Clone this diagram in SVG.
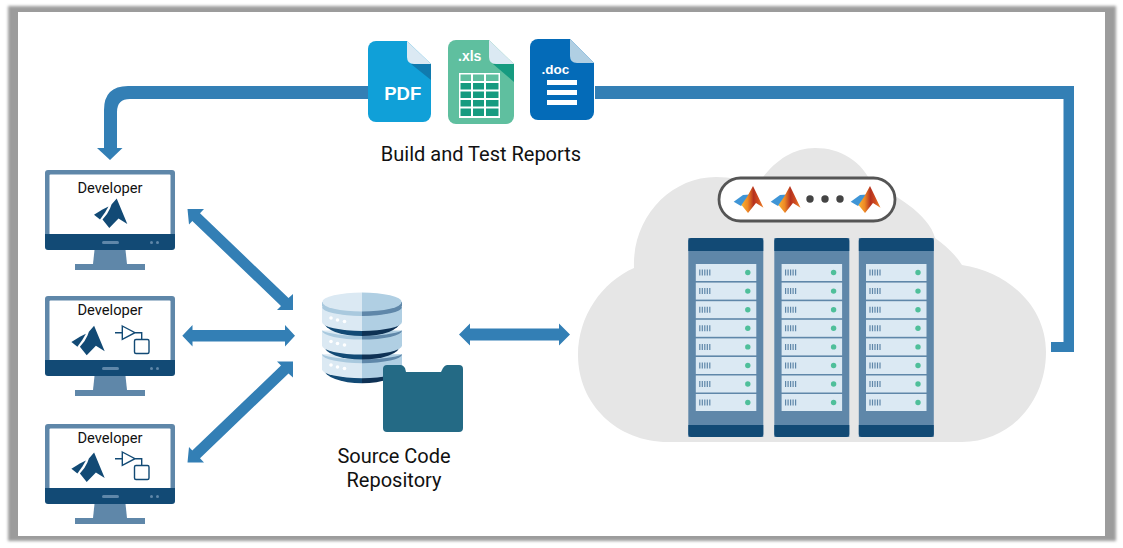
<svg xmlns="http://www.w3.org/2000/svg" width="1123" height="548" viewBox="0 0 1123 548">
<style>
.lbl{font-family:Roboto,"Liberation Sans",sans-serif;fill:#111;text-anchor:middle}
.dev{font-size:14.7px}
.big{font-size:20px}
.ft{font-family:"Liberation Sans",Arial,sans-serif;font-weight:700;fill:#fff}
.conn{fill:#337fb5}
.sl{fill:none;stroke:#124a75;stroke-width:1.4}
.frame{fill:#5f87a9}
.dark{fill:#124a75}
</style>
<defs>
<filter id="blur" x="-3%" y="-3%" width="106%" height="106%"><feGaussianBlur stdDeviation="1.6"/></filter>
<linearGradient id="mlg" x1="0" y1="0" x2="1" y2="0"><stop offset="0" stop-color="#f9b233"/><stop offset=".28" stop-color="#ee8a26"/><stop offset=".55" stop-color="#b5311f"/><stop offset=".75" stop-color="#cf4a20"/><stop offset="1" stop-color="#ef8a2a"/></linearGradient>
<g id="mlDark">
<path class="dark" d="M94 214.700L102.500 209.500L108.500 206.500L105 212.500L100 219.500Z"/>
<path class="dark" d="M116.700 198.500L127.300 224L118.500 218.500L109.300 228L102.500 219.500L107 214L110 208.500L111.500 204.500Z"/>
</g>
<g id="mlCol">
<path fill="#3f95d6" d="M733.700 201.700L743 195L750 194.500L745.500 201.500L741 206Z"/>
<path fill="url(#mlg)" d="M753 186L763.500 207.800L756 203L748 213L741.500 205L747 197L750 191.500Z"/>
</g>
<g id="sim">
<path class="sl" d="M115 332.700H122.300M122.300 326L135 332.700L122.300 339.300ZM135 332.700H141.700V339.300"/>
<rect class="sl" x="134.500" y="339.500" width="14.500" height="14" rx="1.500"/>
</g>
<g id="mon">
<rect class="frame" x="45" y="170" width="130" height="70" rx="3"/>
<rect x="49.500" y="174.500" width="121" height="62" rx="1" fill="#fff"/>
<path class="dark" d="M45 234H175V247a3 3 0 0 1-3 3H48a3 3 0 0 1-3-3Z"/>
<rect x="102" y="241" width="17" height="3" rx="1.500" fill="#5f87a9"/>
<circle cx="151.500" cy="242.500" r="1.500" fill="#5f87a9"/>
<circle cx="157.500" cy="242.500" r="1.500" fill="#5f87a9"/>
<path class="frame" d="M94.500 250H125.500L127 264H93Z"/>
<rect class="frame" x="75" y="264" width="70" height="6"/>
</g>
<g id="unit">
<rect width="60.500" height="17" fill="#dbe9f3"/>
<path d="M4 5.500v6M6.500 5.500v6M9 5.500v6M11.500 5.500v6M14 5.500v6" stroke="#5f87a9" stroke-width="1.200"/>
<circle cx="52" cy="8.500" r="2.700" fill="#4fbf9a"/>
</g>
<g id="rackUnits">
<use href="#unit" y="264"/><use href="#unit" y="282.600"/><use href="#unit" y="301.200"/><use href="#unit" y="319.800"/><use href="#unit" y="338.400"/><use href="#unit" y="357"/><use href="#unit" y="375.500"/><use href="#unit" y="394"/>
</g>
<g id="rackBody">
<path class="frame" d="M0 238H75V437H0Z"/>
<path class="dark" d="M0 241a3 3 0 0 1 3-3H72a3 3 0 0 1 3 3V251H0Z"/>
<path class="dark" d="M0 425H75V434a3 3 0 0 1-3 3H3a3 3 0 0 1-3-3Z"/>
</g>
<g id="disk">
<path fill="#124a75" d="M324 322A38 14 0 0 0 362 336V322Z"/>
<path fill="#0e3154" d="M400 322A38 14 0 0 1 362 336V322Z"/>
<path fill="#dbe9f3" d="M322 307V322A40 9 0 0 0 362 331V307Z"/>
<path fill="#b0cfe3" d="M402 307V322A40 9 0 0 1 362 331V307Z"/>
<path fill="#a9c9de" d="M322 307A40 9 0 0 0 362 316V312A40 8 0 0 1 322 307Z"/>
<path fill="#5f87a9" d="M402 307A40 9 0 0 1 362 316V312A40 8 0 0 0 402 307Z"/>
</g>
</defs>

<rect x="8" y="6" width="1108" height="535" fill="#9c9c9c" filter="url(#blur)"/>
<rect x="18" y="12" width="1087" height="524" fill="#fff"/>

<g id="cloud">
<path fill="#e6e6e6" d="M668 442C617 442 578 404 578 355C578 316 602 282 634 268C632 218 670 177 716 177C730 177 745 180 757 186C772 162 792 148 815 148C841 148 862 161 873 186C890 190 930 215 935 238C945 245 955 254 962 265C1008 272 1046 306 1046 352C1046 402 1010 442 962 442Z"/>
</g>

<g id="racks">
<use href="#rackBody" x="688.300"/>
<use href="#rackBody" x="774.300"/>
<use href="#rackBody" x="858.800"/>
<use href="#rackUnits" x="695.800"/>
<use href="#rackUnits" x="781.600"/>
<use href="#rackUnits" x="866"/>
</g>

<g id="matlab-pool">
<rect x="719" y="178" width="176" height="43" rx="21.500" fill="#fff" stroke="#555" stroke-width="2.800"/>
<use href="#mlCol"/>
<use href="#mlCol" x="37"/>
<use href="#mlCol" x="117"/>
<circle cx="810" cy="199" r="3.700" fill="#444"/>
<circle cx="825" cy="199" r="3.700" fill="#444"/>
<circle cx="840" cy="199" r="3.700" fill="#444"/>
</g>

<g id="connectors">
<path class="conn" d="M368 86V99H130Q117 99 117 112V148H122.500L110 160L97 148H104V110Q104 86 128 86Z"/>
<path class="conn" d="M595 86H1074V352H1051V342H1063.500V99H595Z"/>
<path class="conn" d="M187.500 209H204L200 213.300L288.500 298L293 294V310H277L281 305.900L192.300 221L189 224.500Z"/>
<path class="conn" d="M182.300 335.700L192.500 325V330H285V325L295 335.700L285 346.500V341.500H192.500V346.500Z"/>
<path class="conn" d="M187.500 462.500L189 447L192.300 450.500L281 365.600L277 361.500H293V377.500L288.500 373.500L200 458.200L204 462.500Z"/>
<path class="conn" d="M459 334.500L470 323.500V328.500H559V323.500L570 334.500L559 345.500V340.500H470V345.500Z"/>
</g>

<g id="dev1">
<use href="#mon"/>
<text class="lbl dev" x="110" y="192.500">Developer</text>
<use href="#mlDark"/>
</g>
<g id="dev2">
<use href="#mon" y="126"/>
<text class="lbl dev" x="110" y="315">Developer</text>
<use href="#mlDark" x="-22.600" y="127.300"/>
<use href="#sim"/>
</g>
<g id="dev3">
<use href="#mon" y="254"/>
<text class="lbl dev" x="110" y="442.500">Developer</text>
<use href="#mlDark" x="-22.600" y="254"/>
<use href="#sim" y="126"/>
</g>

<g id="pdf">
<path fill="#10a0d8" d="M376 41H407L431 64V114a8 8 0 0 1-8 8H376a8 8 0 0 1-8-8V49a8 8 0 0 1 8-8Z"/>
<path fill="#dbe9f3" d="M407 41L431 64H414Q407 64 407 57Z"/>
<path fill="#107aae" d="M411 64H431V80Z"/>
<text class="ft" x="402.700" y="100" font-size="18.500" text-anchor="middle">PDF</text>
</g>
<g id="xls">
<path fill="#5fbf9f" d="M456 40H489L514 64V116a8 8 0 0 1-8 8H456a8 8 0 0 1-8-8V48a8 8 0 0 1 8-8Z"/>
<path fill="#dbe9f3" d="M489 40L514 64H496Q489 64 489 57Z"/>
<path fill="#169b80" d="M493 64H514V82Z"/>
<text class="ft" x="458" y="61" font-size="14">.xls</text>
<rect x="459" y="73" width="41" height="45" fill="#fff"/>
<path fill="#5fbf9f" d="M460.500 74.500h10.500v6.500h-10.500zM473 74.500h11v6.500h-11zM486 74.500h12.500v6.500h-12.500z"/>
<path fill="#169b80" d="M460.500 83h10.500v6.500h-10.500zM473 83h11v6.500h-11zM486 83h12.500v6.500h-12.500zM460.500 91.500h10.500v6.500h-10.500zM473 91.500h11v6.500h-11zM486 91.500h12.500v6.500h-12.500zM460.500 100h10.500v6.500h-10.500zM473 100h11v6.500h-11zM486 100h12.500v6.500h-12.500zM460.500 108.500h10.500v7.500h-10.500zM473 108.500h11v7.500h-11zM486 108.500h12.500v7.500h-12.500z"/>
</g>
<g id="doc">
<path fill="#046bb8" d="M538 39H570L594 63V112a8 8 0 0 1-8 8H538a8 8 0 0 1-8-8V47a8 8 0 0 1 8-8Z"/>
<path fill="#b0cfe3" d="M570 39L594 63H577Q570 63 570 56Z"/>
<text class="ft" x="541.500" y="74" font-size="13.500">.doc</text>
<path fill="#fff" d="M547 80h30v5h-30zM547 90h30v5h-30zM547 100h30v5h-30z"/>
</g>
<text class="lbl big" x="481" y="161">Build and Test Reports</text>

<g id="repo">
<use href="#disk" y="47.200"/>
<use href="#disk" y="23.600"/>
<use href="#disk"/>
<path fill="#a9c9de" d="M322 302V306A40 10 0 0 0 362 315.500V302Z"/>
<path fill="#5f87a9" d="M402 302V306A40 10 0 0 1 362 315.500V302Z"/>
<path fill="#dbe9f3" d="M322.300 302A39.700 9.500 0 0 1 362 292.500V311.500A39.700 9.500 0 0 1 322.300 302Z"/>
<path fill="#b0cfe3" d="M401.700 302A39.700 9.500 0 0 0 362 292.500V311.500A39.700 9.500 0 0 0 401.700 302Z"/>
<g fill="#fff">
<circle cx="331" cy="318" r="1.800"/><circle cx="337.500" cy="320" r="1.800"/><circle cx="344.500" cy="321.500" r="1.800"/>
<circle cx="331" cy="341.500" r="1.800"/><circle cx="337.500" cy="343.500" r="1.800"/><circle cx="344.500" cy="345" r="1.800"/>
<circle cx="331" cy="365" r="1.800"/><circle cx="337.500" cy="367" r="1.800"/><circle cx="344.500" cy="368.500" r="1.800"/>
</g>
<path fill="#246a85" d="M387 365H401Q403 365 405 368L406 372H441L443 368Q445 365 447 365H459Q463 365 463 369V428Q463 432 459 432H387Q383 432 383 428V369Q383 365 387 365Z"/>
<text class="lbl big" x="394" y="463">Source Code</text>
<text class="lbl big" x="394" y="487">Repository</text>
</g>
</svg>
